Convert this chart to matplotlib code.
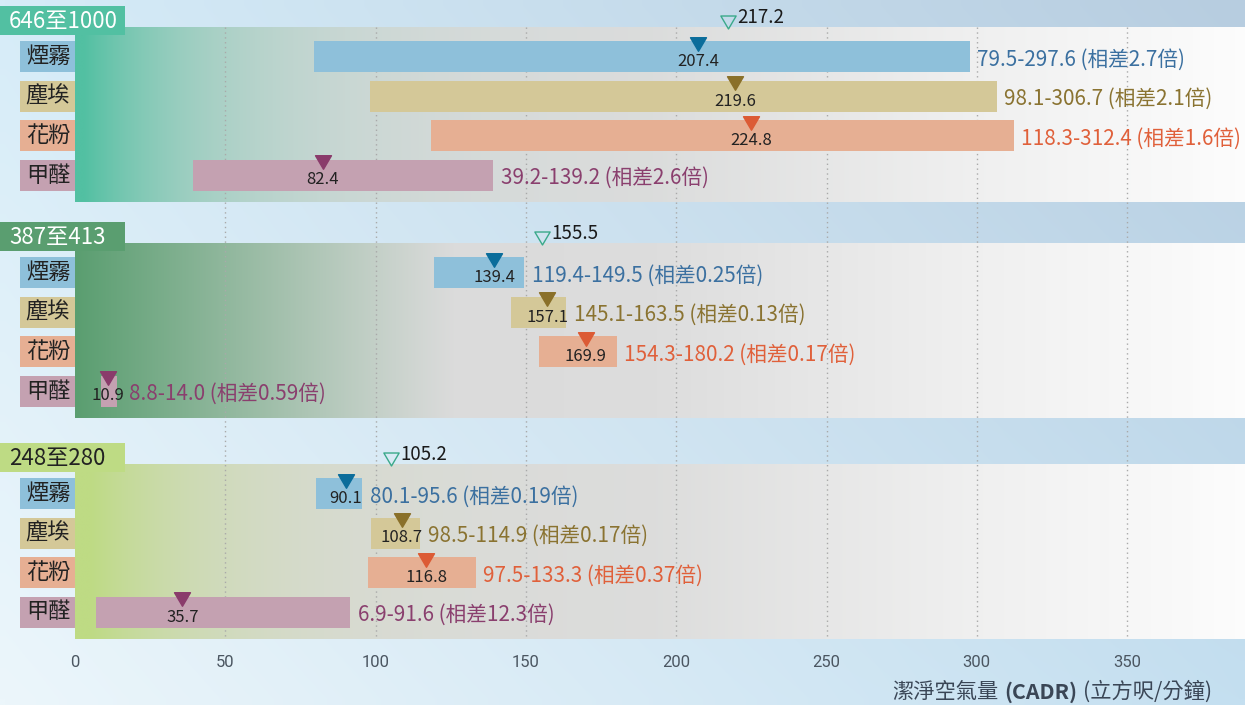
import numpy as np
import matplotlib
matplotlib.use('Agg')
import matplotlib.pyplot as plt
from matplotlib.patches import Rectangle
from matplotlib.path import Path

# ---------------- data ----------------
groups = ['646至1000', '387至413', '248至280']
categories = ['煙霧', '塵埃', '花粉', '甲醛']
low = [[79.5, 98.1, 118.3, 39.2],
       [119.4, 145.1, 154.3, 8.8],
       [80.1, 98.5, 97.5, 6.9]]
high = [[297.6, 306.7, 312.4, 139.2],
        [149.5, 163.5, 180.2, 14.0],
        [95.6, 114.9, 133.3, 91.6]]
median = [[207.4, 219.6, 224.8, 82.4],
          [139.4, 157.1, 169.9, 10.9],
          [90.1, 108.7, 116.8, 35.7]]
ratio = [['2.7', '2.1', '1.6', '2.6'],
         ['0.25', '0.13', '0.17', '0.59'],
         ['0.19', '0.17', '0.37', '12.3']]
reference = [217.2, 155.5, 105.2]
xticks = [0, 50, 100, 150, 200, 250, 300, 350]
xlabel_parts = ['潔淨空氣量', '(CADR)', '(立方呎/分鐘)']

# ---------------- style ----------------
bar_colors = ['#8ec0da', '#d4c898', '#e6af93', '#c4a1b1']
marker_colors = ['#0b6d9b', '#8a7029', '#dc5b35', '#8a3b6b']
text_colors = ['#3b70a0', '#8a7331', '#e0603a', '#8a3f6e']
header_colors = ['#52c0a2', '#5a9e70', '#bedb84']
header_text_colors = ['white', 'white', '#222222']
CJK = ['Noto Sans CJK TC', 'DejaVu Sans']

W, H = 1245, 705
X0 = 75.0          # pixel of x=0
PX = 3.006         # pixels per data unit
AXB = 639.0        # bottom of plotting axes in pixels (from top)
xmin = -X0 / PX
xmax = (W - X0) / PX


def px2x(p):
    return (p - X0) / PX


panel_tops = [27, 243, 464]
panel_h = 175
row_off = [29.5, 69, 108.5, 148]
bar_h = 31

fig = plt.figure(figsize=(W / 100, H / 100), dpi=100)

# background gradient
bg = fig.add_axes([0, 0, 1, 1])
bg.axis('off')
ny, nx = 60, 120
u = np.linspace(0, 1, nx)[None, :, None]
v = np.linspace(0, 1, ny)[:, None, None]
tl = np.array([214, 236, 248]) / 255
tr = np.array([183, 205, 224]) / 255
bl = np.array([236, 246, 251]) / 255
br = np.array([196, 223, 240]) / 255
img = (1 - u) * (1 - v) * tl + u * (1 - v) * tr + (1 - u) * v * bl + u * v * br
bg.imshow(img, extent=(0, 1, 0, 1), aspect='auto', interpolation='bilinear')
bg.set_xlim(0, 1)
bg.set_ylim(0, 1)

ax = fig.add_axes([0, (H - AXB) / H, 1, AXB / H])
ax.set_facecolor('none')
for s in ax.spines.values():
    s.set_visible(False)

# panel gradients
pxs = np.linspace(X0, W, 600)
d = pxs - X0
gray = np.interp(pxs, [75, 650, 950, 1245], [0.85, 0.865, 0.935, 0.99])
alphas = [np.exp(-np.maximum(d - 8, 0) / 130.0),
          np.clip(1 - d / 380.0, 0, 1) ** 1.1,
          np.exp(-np.maximum(d - 15, 0) / 125.0)]
for gi in range(3):
    c = np.array(matplotlib.colors.to_rgb(header_colors[gi]))
    a = alphas[gi][:, None]
    row = a * c[None, :] + (1 - a) * gray[:, None]
    top = panel_tops[gi]
    ax.imshow(row[None, :, :], extent=(0, xmax, top + panel_h, top),
              aspect='auto', interpolation='bilinear', zorder=1)

# grid lines
ax.vlines(xticks[1:], panel_tops[0], panel_tops[2] + panel_h,
          colors='#a9a9a9', linestyles=(0, (1, 2.5)), lw=1, zorder=2)

tri = Path([(-1, 0.85), (1, 0.85), (0, -0.85), (-1, 0.85)],
           [Path.MOVETO, Path.LINETO, Path.LINETO, Path.CLOSEPOLY])

for gi, grp in enumerate(groups):
    top = panel_tops[gi]
    # header box
    ax.add_patch(Rectangle((px2x(0), top - 21.5), px2x(125) - px2x(0), 29,
                           color=header_colors[gi], zorder=4, lw=0))
    ax.text(px2x(9), top + 1, grp, ha='left', va='baseline', fontsize=16,
            family=CJK, color=header_text_colors[gi], zorder=5)
    # reference marker
    ref = reference[gi]
    ax.plot([ref], [top - 5.5], marker=tri, ms=11, mfc='none',
            mec='#3aa98a', mew=1, ls='none', zorder=5)
    ax.text(ref + 9 / PX, top - 4, f'{ref:.1f}', ha='left', va='baseline',
            fontsize=13.5, family=CJK, color='#1a1a1a', zorder=5)

    centers = [top + o for o in row_off]
    lo = np.array(low[gi])
    hi = np.array(high[gi])
    ax.barh(centers, hi - lo, left=lo, height=bar_h, color=bar_colors,
            zorder=3, lw=0)
    for ci, cat in enumerate(categories):
        rc = centers[ci]
        ax.add_patch(Rectangle((px2x(20), rc - bar_h / 2), 55 / PX, bar_h,
                               color=bar_colors[ci], zorder=4, lw=0))
        ax.text(px2x(48), rc, cat, ha='center', va='center', fontsize=16,
                family=CJK, color='#222222', zorder=5)
        m = median[gi][ci]
        ax.plot([m], [rc - bar_h / 2 + 2.5], marker=tri, ms=11.5,
                color=marker_colors[ci], ls='none', zorder=5)
        ax.text(m, rc + 9.5, f'{m:.1f}', ha='center', va='baseline',
                fontsize=12, family=CJK, color='#222222', zorder=6)
        lx = max(hi[ci], m + 4.5) + 2.4
        ax.text(lx, rc + 9, f'{lo[ci]:.1f}-{hi[ci]:.1f} (相差{ratio[gi][ci]}倍)',
                ha='left', va='baseline', fontsize=14.9, family=CJK,
                color=text_colors[ci], zorder=6)

ax.set_xlim(xmin, xmax)
ax.set_ylim(AXB, 0)
ax.set_yticks([])
ax.set_xticks(xticks)
ax.set_xticklabels([str(t) for t in xticks], fontsize=12, family='Roboto',
                   color='#4b5661')
ax.tick_params(axis='x', length=0, pad=11.5)

# x-axis title, built right to left
t3 = ax.text(px2x(1212), 698, xlabel_parts[2], ha='right', va='baseline',
             fontsize=15.3, family=CJK, color='#3a4656', clip_on=False)
t2 = ax.annotate(xlabel_parts[1], xy=(0, 0), xycoords=t3,
                 xytext=(-4, 0), textcoords='offset points',
                 ha='right', va='bottom', fontsize=15.3, family=CJK,
                 weight='bold', color='#3a4656')
t1 = ax.annotate(xlabel_parts[0], xy=(0, 0), xycoords=t2,
                 xytext=(-4, 0), textcoords='offset points',
                 ha='right', va='bottom', fontsize=15.3, family=CJK,
                 color='#3a4656')

fig.savefig('out.png', dpi=100)
